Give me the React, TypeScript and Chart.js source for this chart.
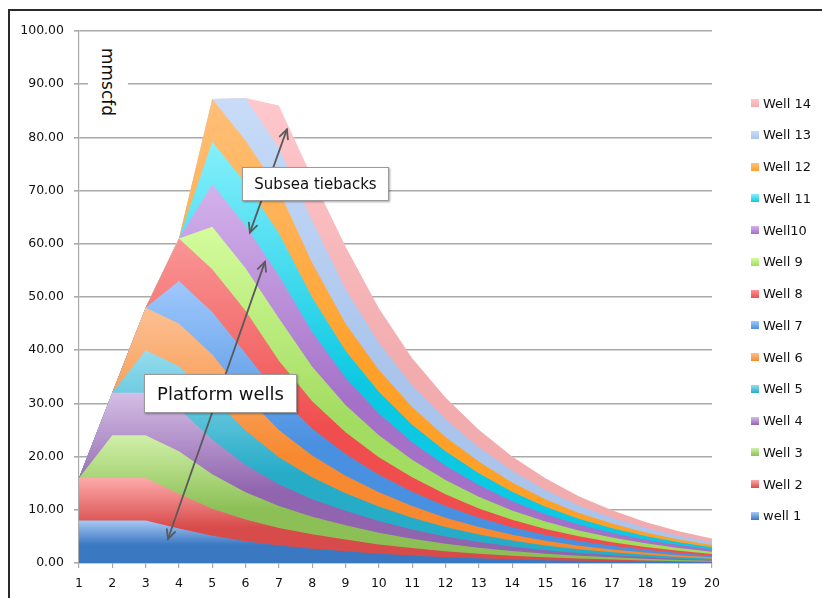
import React, { useEffect, useRef } from 'react';
import { Chart, registerables } from 'chart.js';

Chart.register(...registerables);

// Production years on the category axis
const YEARS = ['1', '2', '3', '4', '5', '6', '7', '8', '9', '10', '11', '12', '13', '14', '15', '16', '17', '18', '19', '20'];

// Gas rate per well, mmscfd, one value per year
const WELL_1 = [8, 8, 8, 6.5, 5.1, 4.1, 3.3, 2.7, 2.2, 1.75, 1.4, 1.1, 0.88, 0.68, 0.53, 0.42, 0.32, 0.24, 0.17, 0.12];
const WELL_2 = [8, 8, 8, 6.5, 5.1, 4.1, 3.3, 2.7, 2.2, 1.75, 1.4, 1.1, 0.88, 0.68, 0.53, 0.42, 0.32, 0.24, 0.17, 0.12];
const WELL_3 = [0, 8, 8, 8, 6.5, 5.1, 4.1, 3.3, 2.7, 2.2, 1.75, 1.4, 1.1, 0.88, 0.68, 0.53, 0.42, 0.32, 0.24, 0.17];
const WELL_4 = [0, 8, 8, 8, 6.5, 5.1, 4.1, 3.3, 2.7, 2.2, 1.75, 1.4, 1.1, 0.88, 0.68, 0.53, 0.42, 0.32, 0.24, 0.17];
const WELL_5 = [0, 0, 8, 8, 8, 6.5, 5.1, 4.1, 3.3, 2.7, 2.2, 1.75, 1.4, 1.1, 0.88, 0.68, 0.53, 0.42, 0.32, 0.24];
const WELL_6 = [0, 0, 8, 8, 8, 6.5, 5.1, 4.1, 3.3, 2.7, 2.2, 1.75, 1.4, 1.1, 0.88, 0.68, 0.53, 0.42, 0.32, 0.24];
const WELL_7 = [0, 0, 0, 8, 8, 8, 6.5, 5.1, 4.1, 3.3, 2.7, 2.2, 1.75, 1.4, 1.1, 0.88, 0.68, 0.53, 0.42, 0.32];
const WELL_8 = [0, 0, 0, 8, 8, 8, 6.5, 5.1, 4.1, 3.3, 2.7, 2.2, 1.75, 1.4, 1.1, 0.88, 0.68, 0.53, 0.42, 0.32];
const WELL_9 = [0, 0, 0, 0, 8, 8, 8, 6.5, 5.1, 4.1, 3.3, 2.7, 2.2, 1.75, 1.4, 1.1, 0.88, 0.68, 0.53, 0.42];
const WELL_10 = [0, 0, 0, 0, 8, 8, 8, 6.5, 5.1, 4.1, 3.3, 2.7, 2.2, 1.75, 1.4, 1.1, 0.88, 0.68, 0.53, 0.42];
const WELL_11 = [0, 0, 0, 0, 8, 8, 8, 6.5, 5.1, 4.1, 3.3, 2.7, 2.2, 1.75, 1.4, 1.1, 0.88, 0.68, 0.53, 0.42];
const WELL_12 = [0, 0, 0, 0, 8, 8, 8, 6.5, 5.1, 4.1, 3.3, 2.7, 2.2, 1.75, 1.4, 1.1, 0.88, 0.68, 0.53, 0.42];
const WELL_13 = [0, 0, 0, 0, 0, 8, 8, 8, 6.5, 5.1, 4.1, 3.3, 2.7, 2.2, 1.75, 1.4, 1.1, 0.88, 0.68, 0.53];
const WELL_14 = [0, 0, 0, 0, 0, 0, 8, 8, 8, 6.5, 5.1, 4.1, 3.3, 2.7, 2.2, 1.75, 1.4, 1.1, 0.88, 0.68];

const WELL_NAMES = ['well 1', 'Well 2', 'Well 3', 'Well 4', 'Well 5', 'Well 6', 'Well 7', 'Well 8', 'Well 9', 'Well10', 'Well 11', 'Well 12', 'Well 13', 'Well 14'];
const WELL_SERIES = [WELL_1, WELL_2, WELL_3, WELL_4, WELL_5, WELL_6, WELL_7, WELL_8, WELL_9, WELL_10, WELL_11, WELL_12, WELL_13, WELL_14];

// Each band is shaded from a light tint at its top to a deeper tone lower down
const LIGHT_COLORS = ['#a8c8f4', '#fdaaaa', '#d0f0a8', '#d4bee6', '#96dcee', '#fcc094', '#a0c8fc', '#fa9696', '#d4fc9c', '#d4b2ec', '#86f0fc', '#ffc07a', '#c8dcf8', '#ffc8cc'];
const DEEP_COLORS = ['#3a78c2', '#d84b4b', '#8cc056', '#9064ae', '#27acc8', '#f78a30', '#4a90e0', '#f04e4e', '#a2dc60', '#a470c8', '#0cc8e2', '#ffa028', '#aac4ec', '#f2acae'];

// Double-headed callout arrows, in (year, mmscfd)
const PLATFORM_ARROW = [[3.67, 4.5], [6.58, 56.6]];
const SUBSEA_ARROW = [[6.13, 62.1], [7.24, 81.5]];

const FONT = "'DejaVu Sans', 'Lucida Grande', sans-serif";
const GRID = '#a9a9a9';

// Highest stacked level reached by each band, for the gradient extent
const stackTops: number[] = (() => {
  const run = YEARS.map(() => 0);
  return WELL_SERIES.map((s) => {
    s.forEach((v, k) => (run[k] += v));
    return Math.max(...run);
  });
})();

const arrowPlugin = {
  id: 'calloutArrows',
  afterDatasetsDraw(chart: any) {
    const { ctx, scales } = chart;
    const px = (p: number[]) => [scales.x.getPixelForValue(p[0] - 1), scales.y.getPixelForValue(p[1])];
    const head = (tip: number[], from: number[]) => {
      const ang = Math.atan2(tip[1] - from[1], tip[0] - from[0]);
      const len = 10;
      const spread = 0.45;
      ctx.beginPath();
      ctx.moveTo(tip[0] - len * Math.cos(ang - spread), tip[1] - len * Math.sin(ang - spread));
      ctx.lineTo(tip[0], tip[1]);
      ctx.lineTo(tip[0] - len * Math.cos(ang + spread), tip[1] - len * Math.sin(ang + spread));
      ctx.stroke();
    };
    ctx.save();
    ctx.strokeStyle = '#5a5a5a';
    ctx.lineWidth = 1.8;
    ctx.lineCap = 'round';
    ctx.lineJoin = 'miter';
    for (const arrow of [PLATFORM_ARROW, SUBSEA_ARROW]) {
      const a = px(arrow[0]);
      const b = px(arrow[1]);
      ctx.beginPath();
      ctx.moveTo(a[0], a[1]);
      ctx.lineTo(b[0], b[1]);
      ctx.stroke();
      head(a, b);
      head(b, a);
    }
    ctx.restore();
  },
};

const LEGEND_TOP = 103;
const LEGEND_STEP = 31.75;

export default function App() {
  const canvasRef = useRef<HTMLCanvasElement | null>(null);

  useEffect(() => {
    document.body.style.margin = '0';
    const canvas = canvasRef.current;
    if (!canvas) return;

    const datasets = WELL_SERIES.map((values, i) => ({
      label: WELL_NAMES[i],
      data: values,
      fill: 'origin',
      borderWidth: 0,
      borderColor: 'rgba(0,0,0,0)',
      pointRadius: 0,
      tension: 0,
      backgroundColor: (c: any) => {
        const chart = c.chart;
        if (!chart.chartArea || !chart.scales.y) return DEEP_COLORS[i];
        const y = chart.scales.y;
        const g = chart.ctx.createLinearGradient(0, y.getPixelForValue(stackTops[i]), 0, y.getPixelForValue(0));
        g.addColorStop(0, LIGHT_COLORS[i]);
        g.addColorStop(0.58, DEEP_COLORS[i]);
        g.addColorStop(1, DEEP_COLORS[i]);
        return g;
      },
    }));

    const chart = new Chart(canvas, {
      type: 'line',
      data: { labels: YEARS, datasets: datasets as any },
      options: {
        responsive: false,
        animation: false,
        events: [],
        layout: { padding: { left: 0, right: 110, top: 31, bottom: 0 } },
        plugins: {
          legend: { display: false },
          tooltip: { enabled: false },
        },
        scales: {
          x: {
            type: 'category',
            offset: false,
            afterFit: (s: any) => { s.height = 35; },
            grid: { drawOnChartArea: false, drawTicks: true, tickLength: 5, color: GRID, lineWidth: 1.2 },
            border: { color: GRID, width: 1.2 },
            ticks: { autoSkip: false, maxRotation: 0, padding: 8, color: '#111', font: { family: FONT, size: 12.5 } },
          },
          y: {
            stacked: true,
            min: 0,
            max: 100,
            afterFit: (s: any) => { s.width = 79; },
            grid: { color: GRID, lineWidth: 1.6, tickLength: 5 },
            border: { color: GRID, width: 1.2 },
            ticks: {
              stepSize: 10,
              padding: 10,
              color: '#111',
              font: { family: FONT, size: 12.5 },
              callback: (v: any) => Number(v).toFixed(2),
            },
          },
        },
      },
      plugins: [arrowPlugin],
    });

    return () => chart.destroy();
  }, []);

  const box: React.CSSProperties = {
    position: 'absolute',
    boxSizing: 'border-box',
    background: '#fff',
    border: '1px solid #9a9a9a',
    boxShadow: '1px 1px 2px rgba(0,0,0,0.35)',
    display: 'flex',
    alignItems: 'center',
    justifyContent: 'center',
    fontFamily: FONT,
    color: '#111',
    whiteSpace: 'nowrap',
  };

  return (
    <div style={{ position: 'relative', width: 822, height: 598, overflow: 'hidden', background: '#fff' }}>
      <canvas ref={canvasRef} width={822} height={598} style={{ position: 'absolute', left: 0, top: 0, width: 822, height: 598 }} />

      {/* chart frame */}
      <div style={{ position: 'absolute', left: 8, top: 9, width: 830, height: 600, borderLeft: '2px solid #2a2a2a', borderTop: '2px solid #2a2a2a' }} />

      {/* unit label */}
      <div style={{ position: 'absolute', left: 88, top: 38, width: 40, height: 86, background: '#fff' }}>
        <div
          style={{
            position: 'absolute',
            left: 20,
            top: 44,
            transform: 'translate(-50%, -50%) rotate(90deg)',
            fontFamily: FONT,
            fontSize: 17,
            color: '#111',
            whiteSpace: 'nowrap',
          }}
        >
          mmscfd
        </div>
      </div>

      <div style={{ ...box, left: 242, top: 167, width: 147, height: 34, fontSize: 15 }}>Subsea tiebacks</div>
      <div style={{ ...box, left: 144, top: 374, width: 153, height: 39, fontSize: 18 }}>Platform wells</div>

      {/* legend, top entry is the last well */}
      {WELL_NAMES.map((name, i) => {
        const row = WELL_NAMES.length - 1 - i;
        const cy = LEGEND_TOP + row * LEGEND_STEP;
        return (
          <div key={name} style={{ position: 'absolute', left: 751, top: cy - 9, height: 18, display: 'flex', alignItems: 'center' }}>
            <div
              style={{
                width: 8,
                height: 8,
                marginRight: 4,
                background: `linear-gradient(${LIGHT_COLORS[i]}, ${DEEP_COLORS[i]})`,
              }}
            />
            <span style={{ fontFamily: FONT, fontSize: 13, color: '#111', whiteSpace: 'nowrap' }}>{name}</span>
          </div>
        );
      })}
    </div>
  );
}
